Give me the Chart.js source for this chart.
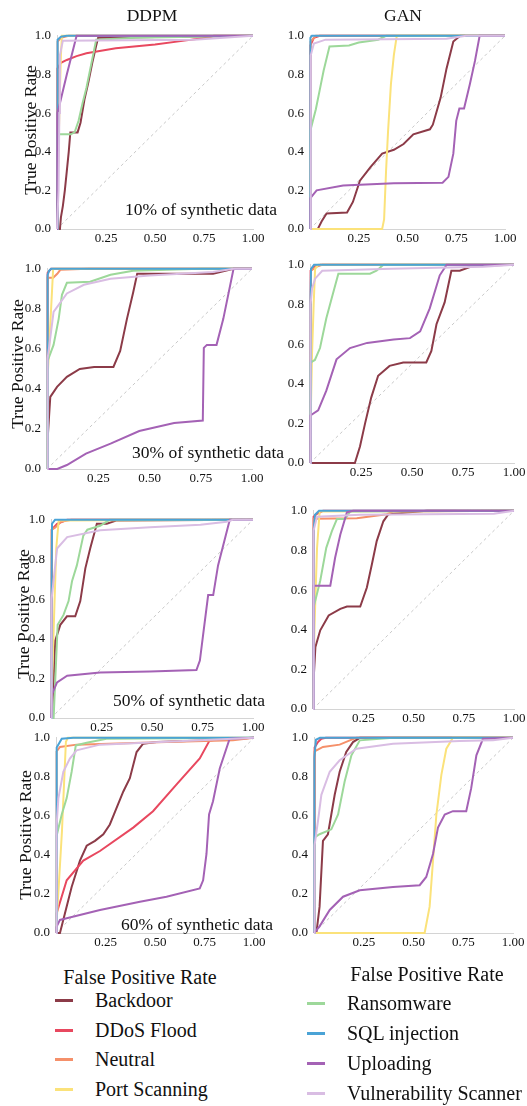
<!DOCTYPE html>
<html lang="en">
<head>
<meta charset="UTF-8">
<title>ROC curves - DDPM vs GAN</title>
<script src="https://cdn.jsdelivr.net/npm/chart.js"></script>
<style>
  body { margin: 0; background: #fff; font-family: 'Liberation Serif', 'Times New Roman', serif; color: #111; }
  #page { position: relative; width: 527px; height: 1106px; overflow: hidden; }
  .txt { position: absolute; white-space: nowrap; line-height: 20px; height: 20px; }
  .ylab { position: absolute; width: 170px; text-align: center; font-size: 17.5px; line-height: 20px; transform: rotate(-90deg); white-space: nowrap; }
  .leg-line { position: absolute; width: 18px; height: 3px; }
</style>
</head>
<body>
<div id="page"></div>

<script>
// classes and colours (legend order)
const classes = ['Backdoor', 'DDoS Flood', 'Neutral', 'Port Scanning',
                 'Ransomware', 'SQL injection', 'Uploading', 'Vulnerability Scanner'];
const colors = ['#8c3b48', '#e8485f', '#f5906a', '#fbe27a',
                '#9dd89a', '#4aa3d6', '#a462b5', '#d9bde3'];

// ROC points [fpr, tpr], one list per class in the order above
const ddpm10 = [
  [[0,0],[0.015,0],[0.02,0.06],[0.03,0.12],[0.04,0.2],[0.05,0.3],[0.06,0.4],[0.068,0.5],[0.105,0.5],[0.12,0.55],[0.14,0.67],[0.16,0.76],[0.18,0.86],[0.2,0.95],[0.21,0.99],[1,1]],
  [[0,0],[0.002,0.83],[0.02,0.86],[0.05,0.875],[0.1,0.895],[0.15,0.91],[0.3,0.935],[0.5,0.955],[0.65,0.975],[0.78,0.993],[0.8,1],[1,1]],
  [[0,0],[0.003,0.97],[0.02,0.99],[0.06,1],[1,1]],
  [[0,0],[0.005,0.3],[0.012,0.6],[0.02,0.9],[0.025,1],[1,1]],
  [[0,0],[0.003,0.49],[0.07,0.49],[0.09,0.5],[0.11,0.56],[0.13,0.65],[0.15,0.73],[0.17,0.83],[0.19,0.93],[0.2,0.98],[0.4,0.99],[1,1]],
  [[0,0],[0.002,0.6],[0.004,0.98],[0.02,0.995],[0.05,1],[1,1]],
  [[0,0],[0.002,0.6],[0.01,0.63],[0.05,0.8],[0.1,1],[1,1]],
  [[0,0],[0.008,0.2],[0.012,0.6],[0.015,0.9],[0.03,0.975],[0.7,0.98],[1,1]]
];
const gan10 = [
  [[0,0],[0.04,0],[0.06,0.04],[0.085,0.08],[0.19,0.085],[0.22,0.14],[0.256,0.25],[0.31,0.32],[0.37,0.39],[0.43,0.41],[0.48,0.44],[0.53,0.49],[0.615,0.516],[0.63,0.54],[0.67,0.68],[0.7,0.83],[0.735,0.97],[0.77,1],[1,1]],
  [[0,0],[0.002,0.95],[0.02,0.99],[0.05,1],[1,1]],
  [[0,0],[0.003,0.97],[0.03,1],[1,1]],
  [[0,0],[0.37,0],[0.38,0.05],[0.39,0.3],[0.4,0.5],[0.415,0.75],[0.43,0.9],[0.445,1],[1,1]],
  [[0,0],[0.002,0.51],[0.03,0.62],[0.05,0.72],[0.07,0.82],[0.1,0.945],[0.2,0.95],[0.25,0.965],[0.35,0.98],[0.39,1],[1,1]],
  [[0,0],[0.002,0.99],[0.01,1],[1,1]],
  [[0,0],[0.002,0.16],[0.034,0.2],[0.17,0.225],[0.43,0.237],[0.68,0.24],[0.71,0.27],[0.735,0.39],[0.75,0.56],[0.766,0.624],[0.79,0.624],[0.82,0.75],[0.846,0.87],[0.87,1],[1,1]],
  [[0,0],[0.003,0.6],[0.005,0.9],[0.02,0.96],[0.08,0.98],[0.7,0.985],[0.8,1],[1,1]]
];
const ddpm30 = [
  [[0,0],[0.005,0.18],[0.016,0.36],[0.049,0.41],[0.097,0.46],[0.16,0.5],[0.23,0.51],[0.324,0.51],[0.357,0.59],[0.39,0.75],[0.42,0.88],[0.44,0.975],[0.81,0.975],[0.91,1],[1,1]],
  [[0,0],[0.003,0.98],[0.02,1],[1,1]],
  [[0,0],[0.003,0.955],[0.03,0.955],[0.05,0.975],[0.065,0.995],[0.2,1],[1,1]],
  [[0,0],[0.005,0.5],[0.015,0.7],[0.025,0.9],[0.03,1],[1,1]],
  [[0,0],[0.003,0.54],[0.032,0.62],[0.057,0.75],[0.073,0.87],[0.097,0.93],[0.21,0.935],[0.31,0.97],[0.42,0.99],[0.75,1],[1,1]],
  [[0,0],[0.003,0.97],[0.01,0.99],[0.02,1],[1,1]],
  [[0,0],[0.05,0],[0.097,0.02],[0.19,0.077],[0.31,0.127],[0.45,0.19],[0.62,0.23],[0.76,0.242],[0.765,0.605],[0.78,0.62],[0.827,0.62],[0.86,0.75],[0.91,1],[1,1]],
  [[0,0],[0.003,0.55],[0.032,0.785],[0.097,0.877],[0.18,0.92],[0.31,0.95],[0.5,0.967],[0.81,0.984],[0.91,1],[1,1]]
];
const gan30 = [
  [[0,0],[0.22,0],[0.245,0.083],[0.27,0.2],[0.3,0.33],[0.334,0.44],[0.39,0.49],[0.457,0.507],[0.57,0.507],[0.595,0.565],[0.62,0.7],[0.66,0.81],[0.693,0.97],[0.734,0.97],[0.8,0.995],[1,1]],
  [[0,0],[0.003,0.97],[0.02,0.99],[0.05,1],[1,1]],
  [[0,0],[0.005,0.97],[0.03,0.99],[0.06,1],[1,1]],
  [[0,0],[0.005,0.3],[0.01,0.55],[0.018,0.8],[0.025,0.98],[0.04,1],[1,1]],
  [[0,0],[0.002,0.507],[0.024,0.52],[0.049,0.58],[0.08,0.73],[0.106,0.83],[0.139,0.955],[0.294,0.955],[0.326,0.97],[0.36,1],[1,1]],
  [[0,0],[0.003,0.85],[0.005,0.98],[0.02,1],[1,1]],
  [[0,0],[0.002,0.24],[0.04,0.266],[0.08,0.365],[0.13,0.523],[0.196,0.58],[0.28,0.606],[0.41,0.623],[0.49,0.63],[0.54,0.664],[0.587,0.78],[0.636,0.947],[0.67,1],[1,1]],
  [[0,0],[0.002,0.4],[0.004,0.8],[0.01,0.88],[0.025,0.93],[0.06,0.97],[0.4,0.98],[0.85,0.99],[1,1]]
];
const ddpm50 = [
  [[0,0],[0.005,0.02],[0.013,0.19],[0.021,0.39],[0.046,0.47],[0.079,0.513],[0.12,0.513],[0.145,0.59],[0.17,0.755],[0.194,0.855],[0.227,0.98],[0.276,0.98],[0.326,0.997],[1,1]],
  [[0,0],[0.004,0.95],[0.03,0.98],[0.08,1],[1,1]],
  [[0,0],[0.003,0.95],[0.02,0.96],[0.05,0.99],[0.1,1],[1,1]],
  [[0,0],[0.013,0.44],[0.026,0.855],[0.038,0.997],[1,1]],
  [[0,0],[0.013,0],[0.021,0.19],[0.033,0.47],[0.062,0.52],[0.087,0.59],[0.104,0.69],[0.128,0.77],[0.16,0.92],[0.18,0.95],[0.243,0.97],[0.29,1],[1,1]],
  [[0,0],[0.003,0.7],[0.005,0.98],[0.02,1],[1,1]],
  [[0,0],[0.005,0.12],[0.03,0.18],[0.08,0.213],[0.243,0.23],[0.49,0.235],[0.72,0.242],[0.737,0.29],[0.753,0.42],[0.778,0.62],[0.803,0.62],[0.827,0.77],[0.885,1],[1,1]],
  [[0,0],[0.003,0.6],[0.03,0.855],[0.08,0.913],[0.243,0.947],[0.49,0.963],[0.74,0.975],[0.87,0.99],[0.9,1],[1,1]]
];
const gan50 = [
  [[0,0],[0.003,0.147],[0.012,0.313],[0.036,0.397],[0.078,0.472],[0.136,0.505],[0.169,0.517],[0.235,0.517],[0.268,0.613],[0.293,0.73],[0.317,0.847],[0.35,0.947],[0.375,0.983],[0.483,0.993],[0.565,1],[1,1]],
  [[0,0],[0.003,0.97],[0.02,0.985],[0.05,1],[1,1]],
  [[0,0],[0.003,0.96],[0.218,0.963],[0.367,0.983],[0.4,0.997],[1,1]],
  [[0,0],[0.007,0.4],[0.02,0.81],[0.033,0.997],[1,1]],
  [[0,0],[0.003,0.513],[0.036,0.647],[0.066,0.813],[0.094,0.897],[0.119,0.958],[0.16,0.958],[0.185,0.997],[1,1]],
  [[0,0],[0.003,0.9],[0.01,0.98],[0.03,1],[1,1]],
  [[0,0],[0.003,0.622],[0.086,0.622],[0.11,0.763],[0.136,0.88],[0.169,0.993],[0.2,1],[1,1]],
  [[0,0],[0.003,0.9],[0.02,0.97],[0.235,0.98],[0.9,0.985],[1,1]]
];
const ddpm60 = [
  [[0,0],[0.02,0],[0.045,0.1],[0.079,0.236],[0.121,0.371],[0.155,0.447],[0.197,0.472],[0.239,0.506],[0.272,0.556],[0.306,0.641],[0.34,0.725],[0.373,0.793],[0.407,0.927],[0.44,0.97],[0.508,0.978],[0.776,0.987],[1,1]],
  [[0,0],[0.003,0.1],[0.054,0.27],[0.138,0.371],[0.222,0.42],[0.39,0.54],[0.49,0.624],[0.608,0.76],[0.726,0.894],[0.776,0.987],[0.894,0.995],[1,1]],
  [[0,0],[0.003,0.93],[0.02,0.953],[0.104,0.965],[0.558,0.978],[0.894,0.987],[1,1]],
  [[0,0],[0.005,0],[0.03,0.52],[0.05,0.98],[0.06,1],[1,1]],
  [[0,0],[0.003,0.497],[0.029,0.607],[0.054,0.691],[0.079,0.826],[0.1,0.961],[0.155,0.975],[0.255,0.995],[1,1]],
  [[0,0],[0.002,0.65],[0.005,0.95],[0.029,0.995],[0.087,1],[1,1]],
  [[0,0],[0.002,0.03],[0.02,0.067],[0.054,0.076],[0.222,0.118],[0.424,0.16],[0.558,0.186],[0.726,0.228],[0.743,0.27],[0.76,0.405],[0.773,0.607],[0.793,0.675],[0.827,0.843],[0.877,0.995],[1,1]],
  [[0,0],[0.003,0.55],[0.012,0.69],[0.037,0.826],[0.07,0.894],[0.104,0.936],[0.222,0.965],[0.558,0.98],[0.894,0.995],[1,1]]
];
const gan60 = [
  [[0,0],[0.012,0],[0.028,0.135],[0.045,0.472],[0.07,0.506],[0.087,0.607],[0.104,0.708],[0.129,0.826],[0.162,0.927],[0.196,0.978],[0.23,1],[1,1]],
  [[0,0],[0.003,0.95],[0.02,0.978],[0.037,0.995],[0.06,1],[1,1]],
  [[0,0],[0.003,0.93],[0.045,0.953],[0.129,0.965],[0.18,0.987],[0.213,1],[1,1]],
  [[0,0],[0.556,0],[0.581,0.135],[0.598,0.371],[0.615,0.607],[0.64,0.81],[0.665,0.944],[0.698,1],[1,1]],
  [[0,0],[0.003,0.49],[0.028,0.506],[0.087,0.531],[0.121,0.607],[0.154,0.776],[0.188,0.91],[0.23,0.987],[0.397,1],[1,1]],
  [[0,0],[0.002,0.9],[0.01,0.99],[0.03,1],[1,1]],
  [[0,0],[0.028,0.034],[0.079,0.118],[0.146,0.186],[0.23,0.219],[0.397,0.236],[0.531,0.245],[0.564,0.287],[0.598,0.405],[0.623,0.54],[0.657,0.607],[0.698,0.624],[0.765,0.624],[0.79,0.742],[0.816,0.91],[0.849,0.995],[1,1]],
  [[0,0],[0.003,0.45],[0.02,0.573],[0.037,0.708],[0.079,0.826],[0.129,0.885],[0.213,0.944],[0.397,0.97],[0.732,0.983],[0.9,0.987],[1,1]]
];

const xTicks = [0, 0.25, 0.5, 0.75, 1];
const yTicks = [0, 0.2, 0.4, 0.6, 0.8, 1];
const diagonal = [[0,0],[1,1]];

// plot area of each panel on the page: [left, top, right, bottom]
const panels = [
  { data: ddpm10, box: [57, 34, 253, 229] },
  { data: gan10,  box: [310, 34, 505, 229] },
  { data: ddpm30, box: [47, 267, 252, 469] },
  { data: gan30,  box: [310, 263, 514, 463] },
  { data: ddpm50, box: [51, 518, 253, 718] },
  { data: gan50,  box: [313, 509, 514, 709] },
  { data: ddpm60, box: [56, 736, 254, 933] },
  { data: gan60,  box: [314, 736, 513, 933] }
];

const page = document.getElementById('page');
const FONT = "'Liberation Serif', 'Times New Roman', serif";
const PAD_L = 40, PAD_T = 12, PAD_R = 22, PAD_B = 24;

panels.forEach(p => {
  const [L, T, R, B] = p.box;
  const w = R - L + PAD_L + PAD_R;
  const h = B - T + PAD_T + PAD_B;
  const c = document.createElement('canvas');
  c.width = w;
  c.height = h;
  c.style.cssText = `position:absolute;left:${L - PAD_L}px;top:${T - PAD_T}px;width:${w}px;height:${h}px;`;
  page.appendChild(c);

  const datasets = p.data.map((pts, k) => ({
    label: classes[k],
    data: pts.map(([x, y]) => ({ x, y })),
    borderColor: colors[k],
    borderWidth: 2,
    pointRadius: 0,
    showLine: true,
    fill: false,
    clip: 3,
    order: classes.length - k
  }));
  datasets.push({
    label: 'chance',
    data: diagonal.map(([x, y]) => ({ x, y })),
    borderColor: '#c8c8c8',
    borderWidth: 1,
    borderDash: [3, 3],
    pointRadius: 0,
    showLine: true,
    order: 99
  });

  new Chart(c, {
    type: 'scatter',
    data: { datasets },
    options: {
      responsive: false,
      animation: false,
      events: [],
      layout: { padding: { left: 0, top: PAD_T, right: PAD_R, bottom: 0 } },
      plugins: { legend: { display: false }, tooltip: { enabled: false } },
      scales: {
        x: {
          type: 'linear', min: 0, max: 1,
          afterFit: s => { s.height = PAD_B; },
          afterBuildTicks: s => { s.ticks = xTicks.map(v => ({ value: v })); },
          grid: { display: false, drawTicks: false },
          border: { display: true, color: '#d4d4d4', width: 1 },
          ticks: {
            autoSkip: false, maxRotation: 0, padding: 2, color: '#111',
            font: { family: FONT, size: 13 },
            callback: v => v === 0 ? '' : v.toFixed(2)
          }
        },
        y: {
          type: 'linear', min: 0, max: 1,
          afterFit: s => { s.width = PAD_L; },
          afterBuildTicks: s => { s.ticks = yTicks.map(v => ({ value: v })); },
          grid: { display: false, drawTicks: false },
          border: { display: true, color: '#d4d4d4', width: 1 },
          ticks: {
            padding: 6, color: '#111',
            font: { family: FONT, size: 13 },
            callback: v => v.toFixed(1)
          }
        }
      }
    }
  });
});

// text helpers
function addText(str, left, cy, size, center) {
  const d = document.createElement('div');
  d.className = 'txt';
  d.textContent = str;
  d.style.fontSize = size + 'px';
  d.style.top = (cy - 10) + 'px';
  if (center) {
    d.style.left = (left - 150) + 'px';
    d.style.width = '300px';
    d.style.textAlign = 'center';
  } else {
    d.style.left = left + 'px';
  }
  page.appendChild(d);
}
function addYLabel(cx, cy) {
  const d = document.createElement('div');
  d.className = 'ylab';
  d.textContent = 'True Positive Rate';
  d.style.left = (cx - 85) + 'px';
  d.style.top = (cy - 10) + 'px';
  page.appendChild(d);
}

addText('DDPM', 152, 15, 17.5, true);
addText('GAN', 403, 15, 17.5, true);

addYLabel(30, 130);
addYLabel(17, 364);
addYLabel(23, 614);
addYLabel(25, 835);

addText('10% of synthetic data', 125, 209, 17.5);
addText('30% of synthetic data', 132, 452, 17.5);
addText('50% of synthetic data', 113, 700, 17.5);
addText('60% of synthetic data', 121, 924, 17.5);

addText('False Positive Rate', 140, 977, 20, true);
addText('False Positive Rate', 427, 974, 20, true);

// legend, two columns of four
const legendCols = [
  { lineX: 55, textX: 95, rows: [1000, 1030, 1059, 1089] },
  { lineX: 307, textX: 347, rows: [1003, 1033, 1063, 1093] }
];
classes.forEach((name, k) => {
  const col = legendCols[Math.floor(k / 4)];
  const cy = col.rows[k % 4];
  const ln = document.createElement('div');
  ln.className = 'leg-line';
  ln.style.left = col.lineX + 'px';
  ln.style.top = (cy - 1) + 'px';
  ln.style.background = colors[k];
  page.appendChild(ln);
  addText(name, col.textX, cy, 20);
});
</script>
</body>
</html>
